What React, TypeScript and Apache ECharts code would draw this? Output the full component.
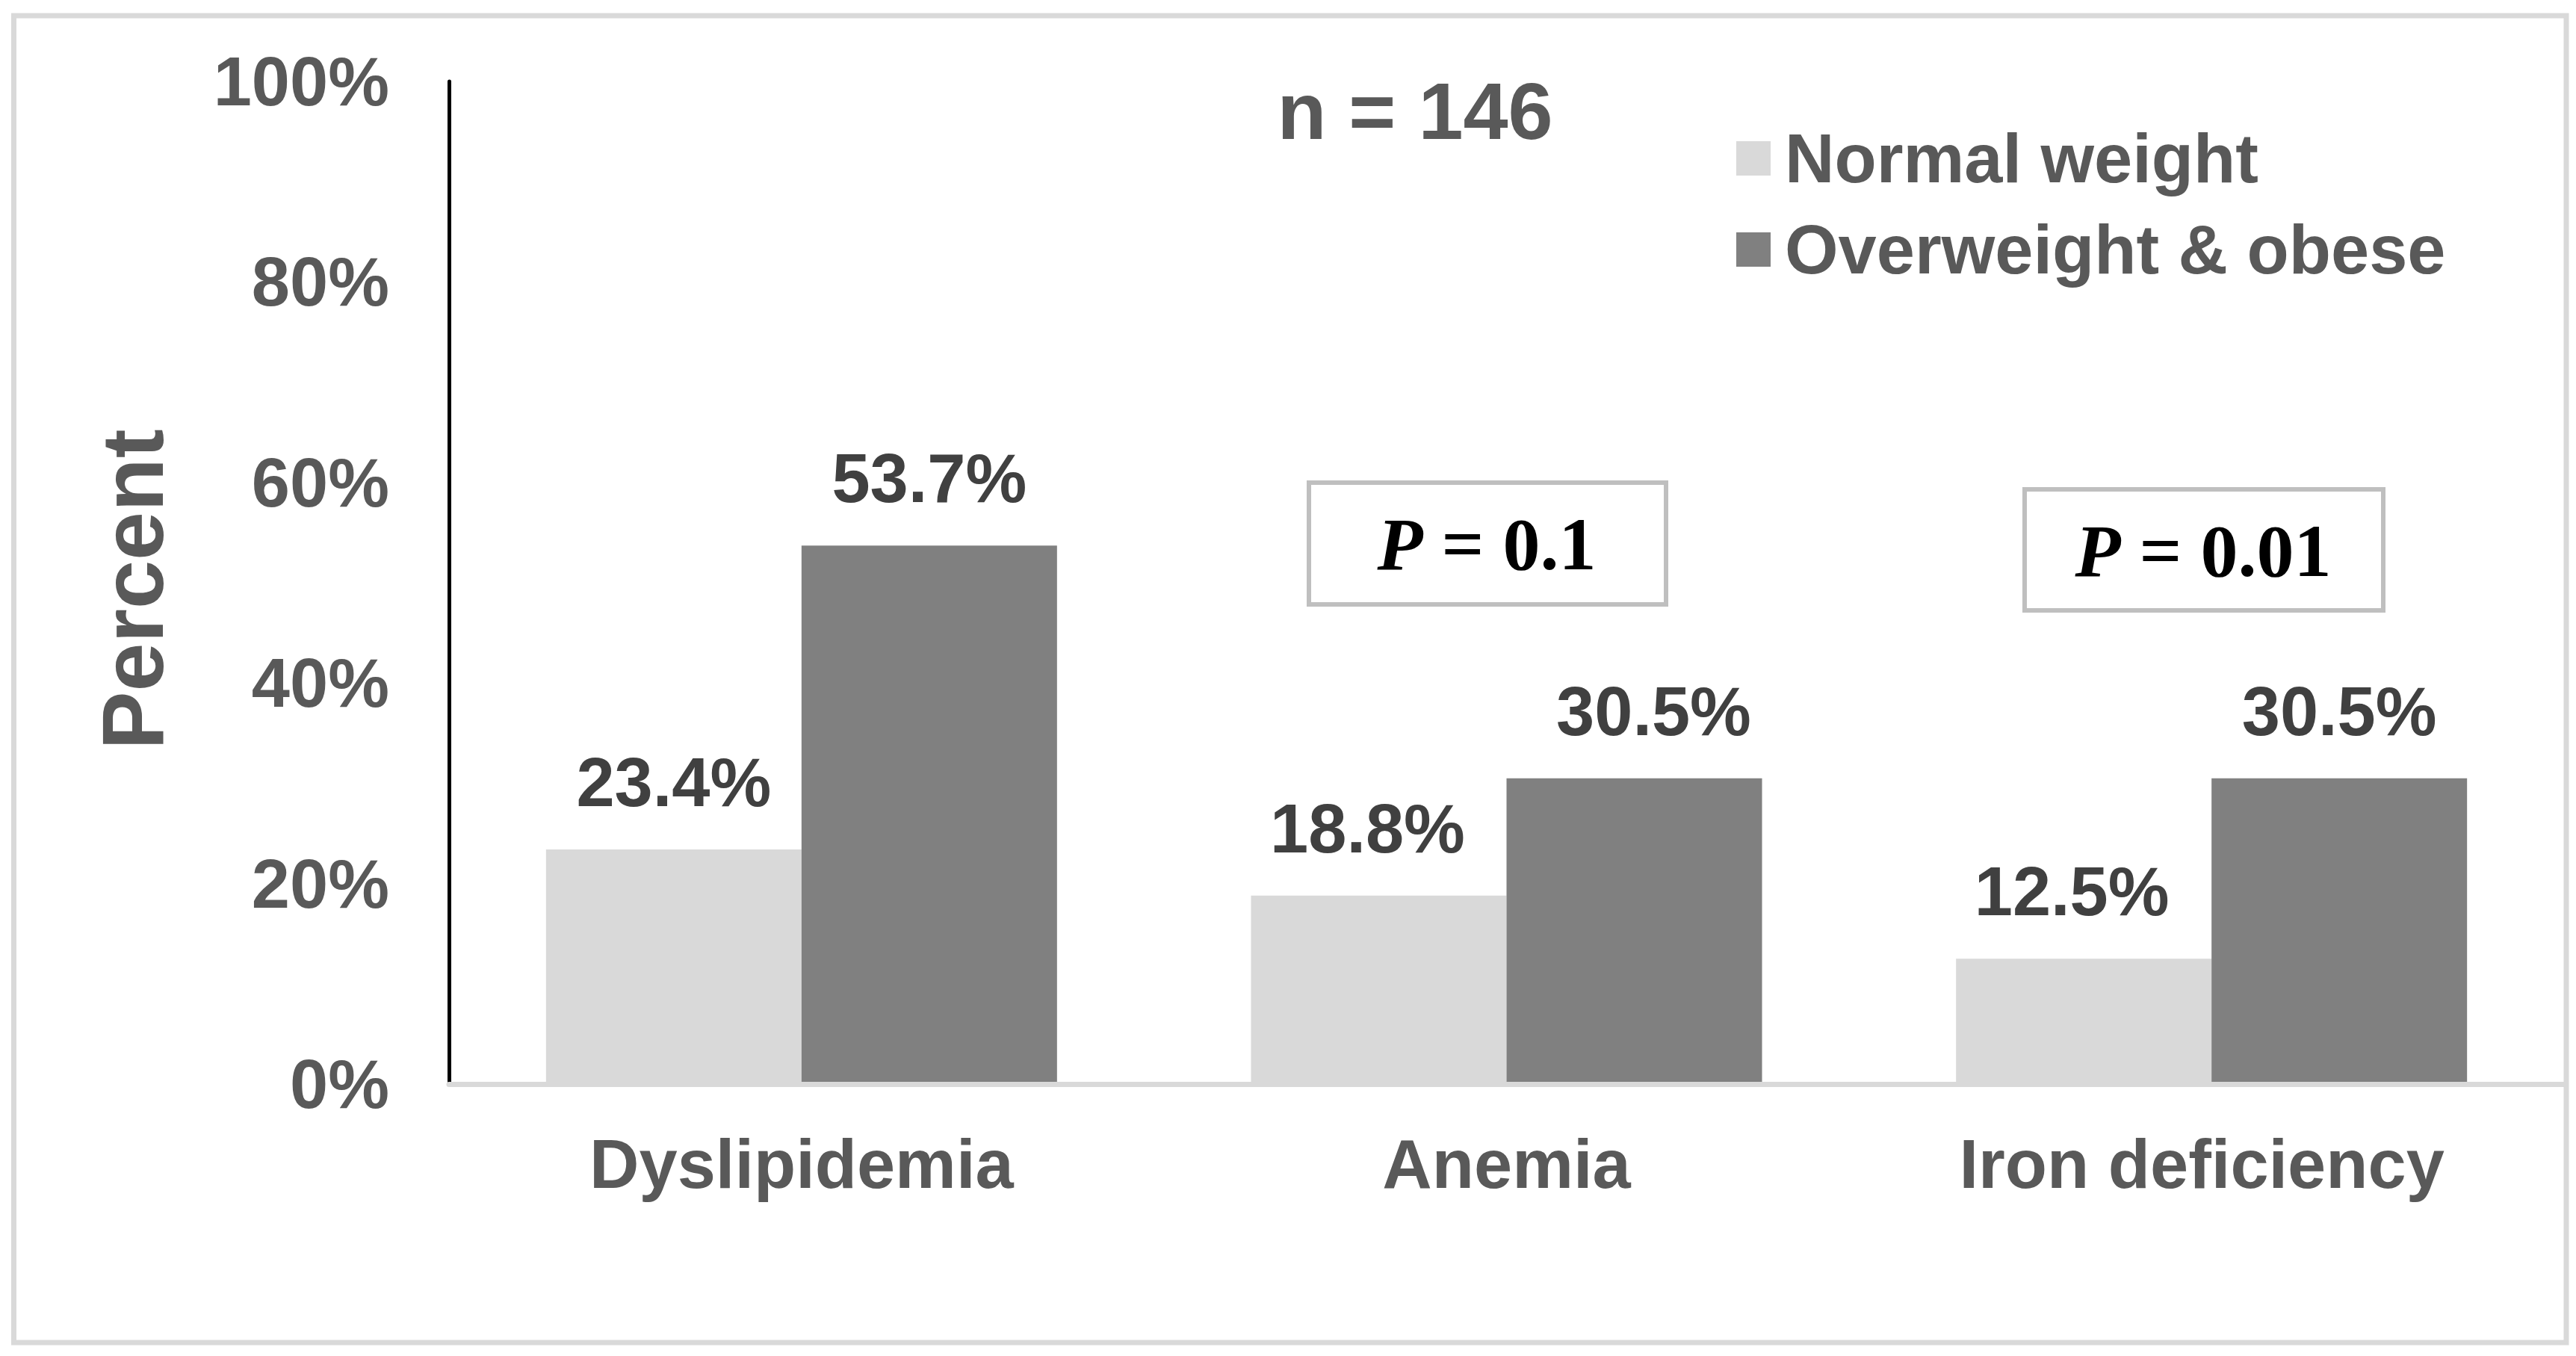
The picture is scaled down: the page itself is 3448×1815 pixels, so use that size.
import React, { useEffect, useRef } from "react";
import * as echarts from "echarts";

const categories = ["Dyslipidemia", "Anemia", "Iron deficiency"];
const seriesNames = ["Normal weight", "Overweight & obese"];
const normalWeight = [23.4, 18.8, 12.5];
const overweightObese = [53.7, 30.5, 30.5];
const yTicks = { min: 0, max: 100, interval: 20 };
const sampleLabel = "n = 146";
const pValues = ["0.1", "0.01"];

// horizontal nudges of the value labels, as in the original figure
const normalLabelShift = [0, -15, -16];
const overweightLabelShift = [0, 26, 0];

const SANS = "'Liberation Sans', Arial, sans-serif";
const SERIF = "'Liberation Serif', 'Times New Roman', serif";
const GREY_TEXT = "#595959";

export default function App() {
  const ref = useRef<HTMLDivElement>(null);

  useEffect(() => {
    if (!ref.current) return;
    const chart = echarts.init(ref.current, undefined, { renderer: "svg" });

    const pBox = (x1: number, y1: number, x2: number, y2: number, tx: number, ty: number, val: string) => [
      {
        type: "rect",
        shape: { x: x1, y: y1, width: x2 - x1, height: y2 - y1 },
        style: { fill: "#fff", stroke: "#bfbfbf", lineWidth: 6 },
        z: 10,
      },
      {
        type: "text",
        x: tx,
        y: ty,
        z: 11,
        style: {
          text: "{p|P}{t| = " + val + "}",
          align: "center",
          verticalAlign: "middle",
          fontFamily: SERIF,
          fontSize: 100,
          fontWeight: "bold",
          fill: "#000",
          rich: {
            p: { fontFamily: SERIF, fontSize: 100, fontWeight: "bold", fontStyle: "italic", fill: "#000" },
            t: { fontFamily: SERIF, fontSize: 100, fontWeight: "bold", fill: "#000" },
          },
        },
      },
    ];

    const labelStyle = {
      show: true,
      position: "top" as const,
      distance: 44,
      color: "#404040",
      fontFamily: SANS,
      fontSize: 92,
      fontWeight: "bold" as const,
      lineHeight: 92,
      formatter: (p: any) => Number(p.value).toFixed(1) + "%",
    };

    const withShift = (vals: number[], shifts: number[]) =>
      vals.map((v, i) => ({ value: v, label: { offset: [shifts[i], 0] } }));

    chart.setOption({
      animation: false,
      backgroundColor: "#ffffff",
      grid: { left: 601, right: 16, top: 109, bottom: 364, containLabel: false },
      legend: {
        orient: "vertical",
        left: 2324,
        top: 166,
        padding: 0,
        itemWidth: 46,
        itemHeight: 46,
        itemGap: 30,
        icon: "rect",
        data: seriesNames,
        textStyle: {
          color: GREY_TEXT,
          fontFamily: SANS,
          fontSize: 92,
          fontWeight: "bold",
          lineHeight: 92,
          padding: [0, 0, 0, 14],
        },
      },
      xAxis: {
        type: "category",
        data: [
          categories[0],
          categories[1],
          { value: categories[2], textStyle: { padding: [0, 26, 0, 0] } },
        ],
        axisLine: { show: true, lineStyle: { color: "#d9d9d9", width: 7 } },
        axisTick: { show: false },
        axisLabel: {
          margin: 61,
          color: GREY_TEXT,
          fontFamily: SANS,
          fontSize: 92,
          fontWeight: "bold",
          lineHeight: 92,
        },
        z: 3,
      },
      yAxis: {
        type: "value",
        min: yTicks.min,
        max: yTicks.max,
        interval: yTicks.interval,
        axisLine: { show: true, lineStyle: { color: "#000000", width: 5 } },
        axisTick: { show: false },
        splitLine: { show: false },
        axisLabel: {
          margin: 80,
          formatter: "{value}%",
          color: GREY_TEXT,
          fontFamily: SANS,
          fontSize: 92,
          fontWeight: "bold",
        },
      },
      series: [
        {
          name: seriesNames[0],
          type: "bar",
          data: withShift(normalWeight, normalLabelShift),
          barWidth: 342,
          barGap: "0%",
          itemStyle: { color: "#d9d9d9" },
          label: labelStyle,
        },
        {
          name: seriesNames[1],
          type: "bar",
          data: withShift(overweightObese, overweightLabelShift),
          barWidth: 342,
          barGap: "0%",
          itemStyle: { color: "#808080" },
          label: labelStyle,
        },
      ],
      graphic: [
        {
          type: "rect",
          shape: { x: 18.5, y: 21, width: 3435 - 18.5, height: 1797 - 21 },
          style: { fill: "none", stroke: "#d9d9d9", lineWidth: 7 },
          z: 0,
          silent: true,
        },
        {
          type: "text",
          x: 1894,
          y: 148,
          style: {
            text: sampleLabel,
            align: "center",
            verticalAlign: "middle",
            fontFamily: SANS,
            fontSize: 108,
            fontWeight: "bold",
            fill: GREY_TEXT,
          },
        },
        {
          type: "text",
          x: 177,
          y: 789,
          rotation: Math.PI / 2,
          style: {
            text: "Percent",
            align: "center",
            verticalAlign: "middle",
            fontFamily: SANS,
            fontSize: 117,
            fontWeight: "bold",
            fill: GREY_TEXT,
          },
        },
        ...pBox(1752, 646, 2230, 809, 1990, 728, pValues[0]),
        ...pBox(2710, 655, 3190, 817, 2949, 737, pValues[1]),
      ],
    });

    return () => chart.dispose();
  }, []);

  return (
    <div
      ref={ref}
      style={{ position: "fixed", left: 0, top: 0, width: 3448, height: 1815, background: "#fff" }}
    />
  );
}
